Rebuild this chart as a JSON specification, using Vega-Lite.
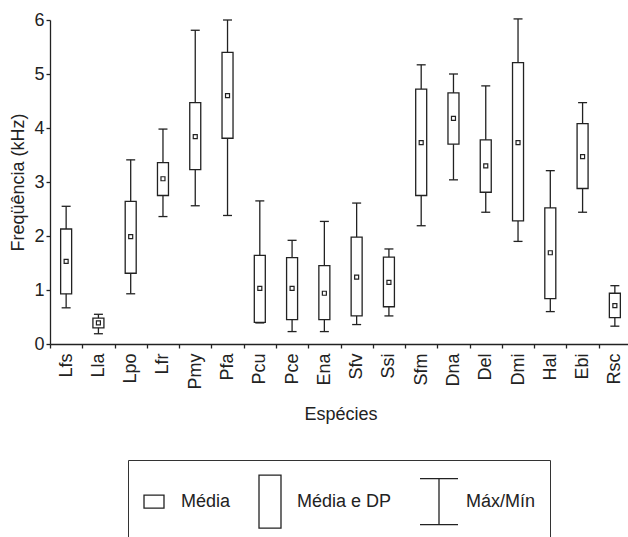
{
  "$schema": "https://vega.github.io/schema/vega-lite/v6.json",
  "width": 578,
  "height": 324,
  "autosize": {"type": "none"},
  "padding": {"left": 50, "top": 20, "right": 0, "bottom": 193},
  "background": "white",
  "config": {
    "view": {"stroke": null},
    "font": "Liberation Sans",
    "axis": {
      "grid": false,
      "domainColor": "#222",
      "domainWidth": 1.3,
      "tickColor": "#222",
      "tickWidth": 1.3,
      "labelColor": "#222",
      "titleColor": "#222",
      "labelFont": "Liberation Sans",
      "titleFont": "Liberation Sans",
      "labelFontSize": 18,
      "titleFontSize": 18,
      "titleFontWeight": "normal"
    }
  },
  "data": {
    "values": [
      {"sp": "Lfs", "min": 0.67, "lo": 0.93, "mean": 1.53, "hi": 2.13, "max": 2.55},
      {"sp": "Lla", "min": 0.19, "lo": 0.30, "mean": 0.39, "hi": 0.48, "max": 0.55},
      {"sp": "Lpo", "min": 0.93, "lo": 1.31, "mean": 1.99, "hi": 2.64, "max": 3.41},
      {"sp": "Lfr", "min": 2.36, "lo": 2.75, "mean": 3.06, "hi": 3.36, "max": 3.98},
      {"sp": "Pmy", "min": 2.56, "lo": 3.23, "mean": 3.84, "hi": 4.47, "max": 5.81},
      {"sp": "Pfa", "min": 2.38, "lo": 3.81, "mean": 4.60, "hi": 5.40, "max": 6.00},
      {"sp": "Pcu", "min": 0.39, "lo": 0.40, "mean": 1.03, "hi": 1.64, "max": 2.65},
      {"sp": "Pce", "min": 0.23, "lo": 0.45, "mean": 1.03, "hi": 1.60, "max": 1.92},
      {"sp": "Ena", "min": 0.23, "lo": 0.45, "mean": 0.94, "hi": 1.45, "max": 2.27},
      {"sp": "Sfv", "min": 0.36, "lo": 0.52, "mean": 1.24, "hi": 1.98, "max": 2.61},
      {"sp": "Ssi", "min": 0.52, "lo": 0.69, "mean": 1.14, "hi": 1.61, "max": 1.76},
      {"sp": "Sfm", "min": 2.19, "lo": 2.75, "mean": 3.73, "hi": 4.72, "max": 5.17},
      {"sp": "Dna", "min": 3.04, "lo": 3.70, "mean": 4.18, "hi": 4.65, "max": 5.00},
      {"sp": "Del", "min": 2.44, "lo": 2.81, "mean": 3.30, "hi": 3.78, "max": 4.78},
      {"sp": "Dmi", "min": 1.90, "lo": 2.28, "mean": 3.73, "hi": 5.21, "max": 6.02},
      {"sp": "Hal", "min": 0.60, "lo": 0.84, "mean": 1.69, "hi": 2.52, "max": 3.21},
      {"sp": "Ebi", "min": 2.44, "lo": 2.88, "mean": 3.47, "hi": 4.08, "max": 4.47},
      {"sp": "Rsc", "min": 0.33, "lo": 0.49, "mean": 0.71, "hi": 0.94, "max": 1.08}
    ]
  },
  "encoding": {
    "x": {
      "field": "sp",
      "type": "nominal",
      "sort": null,
      "title": "Espécies",
      "scale": {"range": [0, 581], "paddingInner": 0, "paddingOuter": 0},
      "axis": {"labelAngle": -90, "tickBand": "extent", "tickSize": 4, "labelPadding": 5, "titlePadding": 16}
    }
  },
  "layer": [
    {
      "mark": {"type": "rule", "color": "#222", "strokeWidth": 1.3},
      "encoding": {
        "y": {
          "field": "min",
          "type": "quantitative",
          "title": "Freqüência (kHz)",
          "scale": {"domain": [0, 6], "nice": false},
          "axis": {"values": [0, 1, 2, 3, 4, 5, 6], "format": "d", "tickSize": 4, "labelPadding": 2, "titlePadding": 6}
        },
        "y2": {"field": "max"}
      }
    },
    {
      "mark": {"type": "tick", "color": "#222", "size": 9, "thickness": 1.3, "opacity": 1},
      "encoding": {"y": {"field": "min", "type": "quantitative", "title": "Freqüência (kHz)"}}
    },
    {
      "mark": {"type": "tick", "color": "#222", "size": 9, "thickness": 1.3, "opacity": 1},
      "encoding": {"y": {"field": "max", "type": "quantitative", "title": "Freqüência (kHz)"}}
    },
    {
      "mark": {"type": "bar", "size": 11, "fill": "white", "stroke": "#222", "strokeWidth": 1.3, "opacity": 1},
      "encoding": {
        "y": {"field": "lo", "type": "quantitative", "title": "Freqüência (kHz)"},
        "y2": {"field": "hi"}
      }
    },
    {
      "mark": {"type": "point", "shape": "square", "size": 16, "filled": false, "stroke": "#222", "strokeWidth": 1.2, "opacity": 1},
      "encoding": {"y": {"field": "mean", "type": "quantitative", "title": "Freqüência (kHz)"}}
    },
    {
      "transform": [{"filter": "false"}],
      "mark": {"type": "point", "filled": false, "stroke": "#222", "strokeWidth": 1.3},
      "encoding": {
        "shape": {
          "datum": "Média",
          "scale": {
            "domain": ["Média", "Média e DP", "Máx/Mín"],
            "range": [
              "M0,-1L0,-1M0,1L0,1M-0.377,-0.245H0.377V0.245H-0.377Z",
              "M0,-1L0,-1M0,1L0,1M-0.415,-1H0.415V1H-0.415Z",
              "M0,-1L0,-1M0,1L0,1M-0.717,-0.868H0.717M0,-0.868V0.868M-0.717,0.868H0.717"
            ]
          },
          "legend": {
            "orient": "none",
            "legendX": 78,
            "legendY": 440,
            "direction": "horizontal",
            "title": null,
            "padding": 14,
            "strokeColor": "#333",
            "symbolSize": 2809,
            "symbolOffset": -15.5,
            "labelOffset": -0.5,
            "labelFontSize": 18,
            "labelFont": "Liberation Sans",
            "labelColor": "#222",
            "labelLimit": 300,
            "columnPadding": 25,
            "symbolStrokeColor": "#222",
            "symbolStrokeWidth": 1.3,
            "symbolFillColor": "transparent",
            "symbolOpacity": 1
          }
        }
      }
    }
  ]
}
